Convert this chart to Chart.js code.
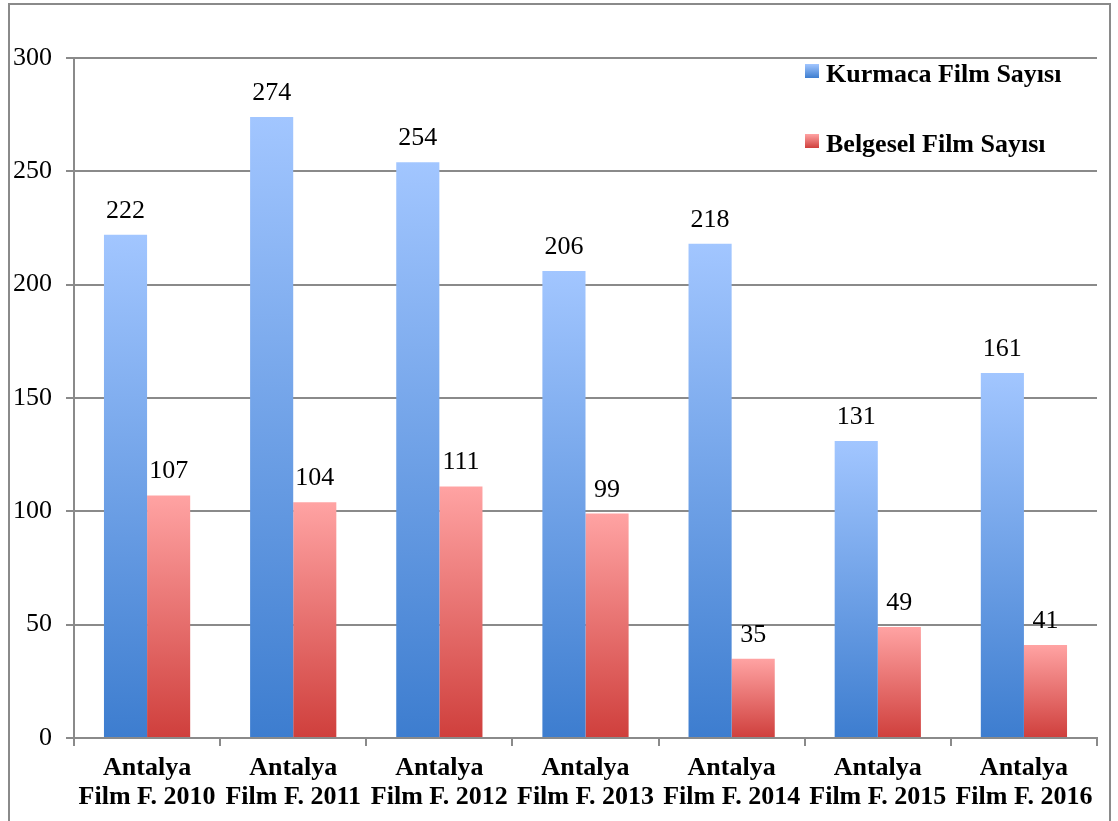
<!DOCTYPE html>
<html>
<head>
<meta charset="utf-8">
<script src="https://cdn.jsdelivr.net/npm/chart.js@4/dist/chart.umd.min.js"></script>
<style>
  html, body { margin: 0; padding: 0; background: #fff; }
  #wrap { position: relative; width: 1118px; height: 821px; }
  #frame { position: absolute; left: 8px; top: 3px; width: 1103px; height: 830px; border: 2px solid #8a8a8a; box-sizing: border-box; }
  canvas { position: absolute; left: 0; top: 0; }
</style>
</head>
<body>
<div id="wrap">
  <div id="frame"></div>
  <canvas id="chart" width="1118" height="821"></canvas>
</div>
<script>
// chart values
const categories = [
    ['Antalya', 'Film F. 2010'],
    ['Antalya', 'Film F. 2011'],
    ['Antalya', 'Film F. 2012'],
    ['Antalya', 'Film F. 2013'],
    ['Antalya', 'Film F. 2014'],
    ['Antalya', 'Film F. 2015'],
    ['Antalya', 'Film F. 2016']
];
const kurmacaValues = [222, 274, 254, 206, 218, 131, 161];
const belgeselValues = [107, 104, 111, 99, 35, 49, 41];
const seriesNames = ['Kurmaca Film Sayısı', 'Belgesel Film Sayısı'];
const yTicks = [0, 50, 100, 150, 200, 250, 300];

const serif = '"Liberation Serif", "Times New Roman", serif';

// per-bar vertical gradient (light at the top, dark at the base)
function barGradient(topColor, bottomColor) {
    return function(context) {
        const chart = context.chart;
        const y = chart.scales.y;
        if (!y || !chart.chartArea || context.raw == null) return bottomColor;
        const top = y.getPixelForValue(context.raw);
        const base = y.getPixelForValue(0);
        if (!isFinite(top) || !isFinite(base) || top === base) return bottomColor;
        const g = chart.ctx.createLinearGradient(0, top, 0, base);
        g.addColorStop(0, topColor);
        g.addColorStop(1, bottomColor);
        return g;
    };
}

const blueTop = '#a2c6ff', blueBottom = '#3d7dcf';
const redTop = '#ffa3a3', redBottom = '#cf3f3c';

// value labels above bars + the legend box on the right
const labelsPlugin = {
    id: 'labelsPlugin',
    afterDatasetsDraw(chart) {
        const ctx = chart.ctx;
        ctx.save();
        ctx.font = '26px ' + serif;
        ctx.fillStyle = '#000';
        ctx.textAlign = 'center';
        ctx.textBaseline = 'alphabetic';
        chart.data.datasets.forEach((ds, i) => {
            chart.getDatasetMeta(i).data.forEach((bar, j) => {
                ctx.fillText(String(ds.data[j]), bar.x, bar.y - 17);
            });
        });

        // legend
        const items = [
            { text: seriesNames[0], top: blueTop, bottom: blueBottom, y: 82 },
            { text: seriesNames[1], top: redTop, bottom: redBottom, y: 152 }
        ];
        ctx.font = 'bold 26px ' + serif;
        ctx.textAlign = 'left';
        ctx.textBaseline = 'alphabetic';
        items.forEach(it => {
            const g = ctx.createLinearGradient(0, it.y - 18, 0, it.y - 4);
            g.addColorStop(0, it.top);
            g.addColorStop(1, it.bottom);
            ctx.fillStyle = g;
            ctx.fillRect(805, it.y - 18, 14, 14);
            ctx.fillStyle = '#000';
            ctx.fillText(it.text, 826, it.y);
        });
        ctx.restore();
    }
};

new Chart(document.getElementById('chart'), {
    type: 'bar',
    data: {
        labels: categories,
        datasets: [{
            label: seriesNames[0],
            data: kurmacaValues,
            backgroundColor: barGradient(blueTop, blueBottom),
            borderWidth: 0,
            barPercentage: 1,
            categoryPercentage: 0.59
        }, {
            label: seriesNames[1],
            data: belgeselValues,
            backgroundColor: barGradient(redTop, redBottom),
            borderWidth: 0,
            barPercentage: 1,
            categoryPercentage: 0.59
        }]
    },
    options: {
        responsive: false,
        animation: false,
        layout: {
            padding: { left: 8, top: 58, right: 21, bottom: 0 }
        },
        plugins: {
            legend: { display: false },
            tooltip: { enabled: false }
        },
        scales: {
            x: {
                afterFit: scale => { scale.height = 83; },
                grid: {
                    offset: true,
                    drawOnChartArea: false,
                    tickLength: 8,
                    color: '#8a8a8a',
                    lineWidth: 2
                },
                border: { color: '#8a8a8a', width: 2 },
                ticks: {
                    color: '#000',
                    font: { family: serif, size: 26, weight: 'bold', lineHeight: 1.1 },
                    padding: 8,
                    maxRotation: 0,
                    autoSkip: false
                }
            },
            y: {
                min: 0,
                max: 300,
                afterFit: scale => { scale.width = 66; },
                afterBuildTicks: scale => {
                    scale.ticks = yTicks.map(v => ({ value: v }));
                },
                grid: {
                    color: '#8a8a8a',
                    lineWidth: 2,
                    tickLength: 8
                },
                border: { color: '#8a8a8a', width: 2 },
                ticks: {
                    color: '#000',
                    font: { family: serif, size: 26 },
                    padding: 14
                }
            }
        }
    },
    plugins: [labelsPlugin]
});
</script>
</body>
</html>
